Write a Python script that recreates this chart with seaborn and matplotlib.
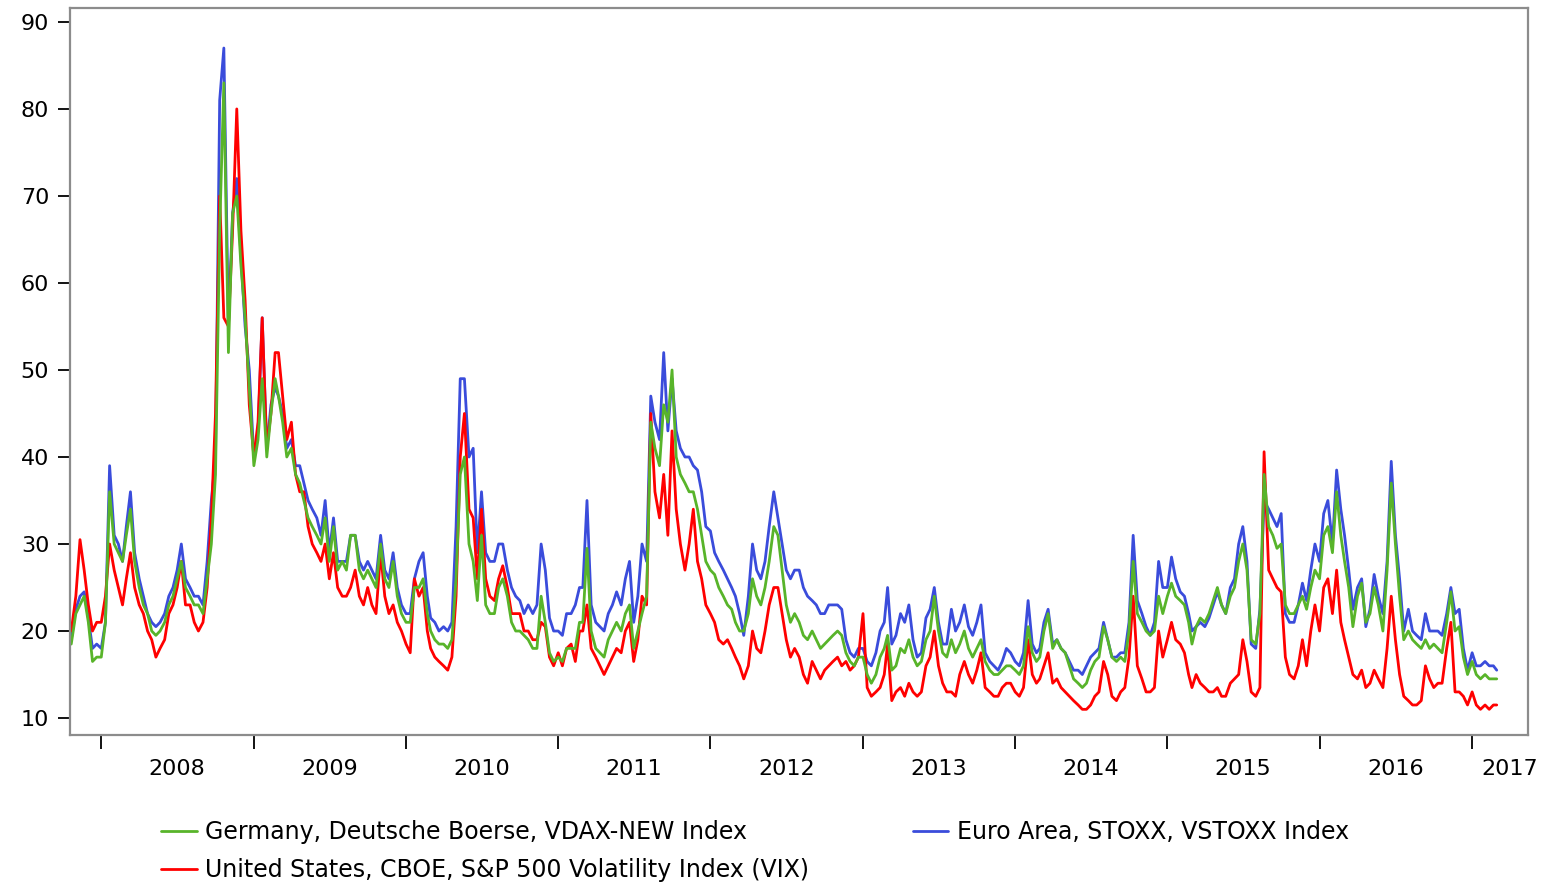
import pandas as pd
import numpy as np
import seaborn as sns
import matplotlib
matplotlib.use("Agg")
import matplotlib.pyplot as plt
import matplotlib.dates as mdates

# values, roughly every 10 days (1st, 11th, 21st of each month)
# first point 2007-10-21, last point 2017-03-01
vdax = [
    18.5, 22, 23, 24, 21, 16.5, 17,  # 2007 (Oct21 - Dec21)
    17, 21, 36, 30, 29, 28, 31, 34, 28, 25, 23, 22, 20, 19.5, 20, 21, 23, 24,
    26, 28, 25, 24, 23, 23, 22, 26, 30, 38, 66, 83, 52, 68, 70, 62, 56, 48,  # 2008
    39, 42, 49, 40, 45, 49, 47, 44, 40, 41, 38, 37, 35, 33, 32, 31, 30, 33,
    28, 32, 27, 28, 27, 31, 31, 27, 26, 27, 26, 25, 30, 26, 25, 28, 24, 22,  # 2009
    21, 21, 25, 25, 26, 22, 20, 19, 18.5, 18.5, 18, 19, 26, 38, 40, 30, 28, 23.5,
    31, 23, 22, 22, 25, 26, 24, 21, 20, 20, 19.5, 19, 18, 18, 24, 21, 17.5, 16.5,  # 2010
    17, 16.5, 18, 18, 18, 21, 21, 29.5, 20, 18, 17.5, 17, 19, 20, 21, 20, 22, 23,
    18, 20, 22, 24, 44, 41, 39, 46, 44, 50, 40, 38, 37, 36, 36, 34, 31, 28,  # 2011
    27, 26.5, 25, 24, 23, 22.5, 21, 20, 20, 22, 26, 24, 23, 25, 28, 32, 31, 27,
    23, 21, 22, 21, 19.5, 19, 20, 19, 18, 18.5, 19, 19.5, 20, 19.5, 17.5, 16.5, 16, 17,  # 2012
    17, 15, 14, 15, 17, 18, 19.5, 15.5, 16, 18, 17.5, 19, 17, 16, 16.5, 19, 20, 24,
    20, 17.5, 17, 19, 17.5, 18.5, 20, 18, 17, 18, 19, 16.5, 15.5, 15, 15, 15.5, 16, 16,  # 2013
    15.5, 15, 16, 20.5, 17.5, 16.5, 17, 20, 22, 18, 19, 18, 17.5, 16, 14.5, 14, 13.5, 14,
    15.5, 16.5, 17, 20.5, 19, 17, 16.5, 17, 16.5, 20, 28, 22, 21, 20, 19.5, 20, 24, 22,  # 2014
    24, 25.5, 24, 23.5, 23, 21, 18.5, 20.5, 21.5, 21, 22, 23.5, 25, 23, 22, 24, 25, 28,
    30, 27, 19, 18.5, 22, 38, 32, 31, 29.5, 30, 23, 22, 22, 23, 24, 22.5, 25, 27,  # 2015
    26, 31, 32, 29, 36, 31, 28, 25, 20.5, 24, 25.5, 21, 22, 25, 23, 20, 27, 37,
    30, 24, 19, 20, 19, 18.5, 18, 19, 18, 18.5, 18, 17.5, 21, 24.5, 20, 20.5, 17, 15,  # 2016
    16.5, 15, 14.5, 15, 14.5, 14.5, 14.5,  # 2017 (Jan1 - Mar1)
]
vstoxx = [
    19, 22.5, 24, 24.5, 21.5, 18, 18.5,
    18, 21, 39, 31, 30, 28, 32, 36, 29, 26, 24, 22, 21, 20.5, 21, 22, 24, 25,
    27, 30, 26, 25, 24, 24, 23, 28, 35, 40, 81, 87, 55, 68, 72, 63, 55, 50,
    40, 43, 56, 41, 46, 48, 47, 45, 41, 42, 39, 39, 37, 35, 34, 33, 31, 35,
    29, 33, 28, 28, 28, 31, 31, 28, 27, 28, 27, 26, 31, 27, 26, 29, 25, 23,
    22, 22, 26, 28, 29, 24, 21.5, 21, 20, 20.5, 20, 21, 32, 49, 49, 40, 41, 29,
    36, 29, 28, 28, 30, 30, 27, 25, 24, 23.5, 22, 23, 22, 23, 30, 27, 21.5, 20,
    20, 19.5, 22, 22, 23, 25, 25, 35, 23, 21, 20.5, 20, 22, 23, 24.5, 23, 26, 28,
    21, 24, 30, 28, 47, 44, 42, 52, 43, 49, 43, 41, 40, 40, 39, 38.5, 36, 32,
    31.5, 29, 28, 27, 26, 25, 24, 22, 19.5, 24, 30, 27, 26, 28, 32, 36, 33, 30,
    27, 26, 27, 27, 25, 24, 23.5, 23, 22, 22, 23, 23, 23, 22.5, 19, 17.5, 17, 18,
    18, 16.5, 16, 17.5, 20, 21, 25, 18.5, 19.5, 22, 21, 23, 19, 17, 17.5, 21.5, 22.5, 25,
    21, 18.5, 18.5, 22.5, 20, 21, 23, 20.5, 19.5, 21, 23, 17.5, 16.5, 16, 15.5, 16.5, 18, 17.5,
    16.5, 16, 17.5, 23.5, 18.5, 17.5, 18, 21, 22.5, 18.5, 19, 18, 17.5, 16.5, 15.5, 15.5, 15, 16,
    17, 17.5, 18, 21, 19, 17, 17, 17.5, 17.5, 21, 31, 23.5, 22, 20.5, 19.5, 21, 28, 25,
    25, 28.5, 26, 24.5, 24, 22, 20, 20.5, 21, 20.5, 21.5, 23, 24.5, 23, 22, 25, 26, 30,
    32, 28, 18.5, 18, 22.5, 35, 34, 33, 32, 33.5, 22, 21, 21, 23, 25.5, 23.5, 27, 30,
    28, 33.5, 35, 30, 38.5, 34, 31, 27, 22.5, 25, 26, 20.5, 22.5, 26.5, 24, 22, 28, 39.5,
    31, 26, 20, 22.5, 20, 19.5, 19, 22, 20, 20, 20, 19.5, 22, 25, 22, 22.5, 18, 15.5,
    17.5, 16, 16, 16.5, 16, 16, 15.5,
]
vix = [
    20, 24, 30.5, 27, 23, 20, 21,
    21, 24, 30, 27, 25, 23, 26, 29, 25, 23, 22, 20, 19, 17, 18, 19, 22, 23,
    25, 28, 23, 23, 21, 20, 21, 25, 33, 45, 70, 56, 55, 66, 80, 66, 58, 46,
    40, 44, 56, 41, 45, 52, 52, 47, 42, 44, 38, 36, 36, 32, 30, 29, 28, 30,
    26, 29, 25, 24, 24, 25, 27, 24, 23, 25, 23, 22, 29, 24, 22, 23, 21, 20,
    18.5, 17.5, 26, 24, 25, 20, 18, 17, 16.5, 16, 15.5, 17, 24, 40, 45, 34, 33, 26,
    34, 26, 24, 23.5, 26, 27.5, 25, 22, 22, 22, 20, 20, 19, 19, 21, 20.5, 17, 16,
    17.5, 16, 18, 18.5, 16.5, 20, 20, 23, 18, 17, 16, 15, 16, 17, 18, 17.5, 20, 21,
    16.5, 19, 24, 23, 45, 36, 33, 38, 31, 43, 34, 30, 27, 30, 34, 28, 26, 23,
    22, 21, 19, 18.5, 19, 18, 17, 16, 14.5, 16, 20, 18, 17.5, 20, 23, 25, 25, 22,
    19, 17, 18, 17, 15, 14, 16.5, 15.5, 14.5, 15.5, 16, 16.5, 17, 16, 16.5, 15.5, 16, 17,
    22, 13.5, 12.5, 13, 13.5, 15, 18.5, 12, 13, 13.5, 12.5, 14, 13, 12.5, 13, 16, 17, 20,
    16, 14, 13, 13, 12.5, 15, 16.5, 15, 14, 15.5, 17.5, 13.5, 13, 12.5, 12.5, 13.5, 14, 14,
    13, 12.5, 13.5, 19, 15, 14, 14.5, 16, 17.5, 14, 14.5, 13.5, 13, 12.5, 12, 11.5, 11, 11,
    11.5, 12.5, 13, 16.5, 15, 12.5, 12, 13, 13.5, 17, 24, 16, 14.5, 13, 13, 13.5, 20, 17,
    19, 21, 19, 18.5, 17.5, 15, 13.5, 15, 14, 13.5, 13, 13, 13.5, 12.5, 12.5, 14, 14.5, 15,
    19, 16.5, 13, 12.5, 13.5, 40.6, 27, 26, 25, 24.5, 17, 15, 14.5, 16, 19, 16, 20, 23,
    20, 25, 26, 22, 27, 21, 19, 17, 15, 14.5, 15.5, 13.5, 14, 15.5, 14.5, 13.5, 18, 24,
    19, 15, 12.5, 12, 11.5, 11.5, 12, 16, 14.5, 13.5, 14, 14, 18, 21, 13, 13, 12.5, 11.5,
    13, 11.5, 11, 11.5, 11, 11.5, 11.5,
]

labels = [
    "Germany, Deutsche Boerse, VDAX-NEW Index",
    "Euro Area, STOXX, VSTOXX Index",
    "United States, CBOE, S&P 500 Volatility Index (VIX)",
]
colors = ["#58b42a", "#3a4cdb", "#ff0000"]
years = list(range(2008, 2018))

# dekad dates
dates = [pd.Timestamp("2007-10-21")]
for m in pd.date_range("2007-11-01", "2017-02-01", freq="MS"):
    for d in (1, 11, 21):
        dates.append(m + pd.Timedelta(days=d - 1))
dates.append(pd.Timestamp("2017-03-01"))

frames = []
for lab, vals in zip(labels, [vdax, vstoxx, vix]):
    frames.append(pd.DataFrame({"date": dates, "value": vals, "series": lab}))
df = pd.concat(frames, ignore_index=True)

sns.set_style("white")
plt.rcParams["font.family"] = ["DejaVu Sans"]
plt.rcParams["text.color"] = "black"
plt.rcParams["xtick.color"] = "black"
plt.rcParams["ytick.color"] = "black"

fig = plt.figure(figsize=(15.54, 8.84), dpi=100)
ax = fig.add_axes([70 / 1554, 1 - 735 / 884, 1458 / 1554, 727 / 884])

# draw order: blue, red, green on top
order = [labels[1], labels[2], labels[0]]
pal = dict(zip(labels, colors))
for lab in order:
    sns.lineplot(data=df[df["series"] == lab], x="date", y="value", color=pal[lab],
                 linewidth=2.0, ax=ax, label=lab, legend=False)

ax.set_xlim(pd.Timestamp("2007-10-18"), pd.Timestamp("2017-05-15"))
ax.set_ylim(8.05, 91.6)
ax.set_yticks(range(10, 91, 10))
ax.set_xlabel("")
ax.set_ylabel("")

# year boundary ticks without labels, year labels mid-year
ax.set_xticks([mdates.date2num(pd.Timestamp(f"{y}-01-01")) for y in years])
ax.set_xticklabels([])
mid = [mdates.date2num(pd.Timestamp(f"{y}-07-01")) for y in years[:-1]]
mid.append(mdates.date2num(pd.Timestamp("2017-04-01")))
ax.set_xticks(mid, minor=True)
ax.set_xticklabels([str(y) for y in years], minor=True)
ax.tick_params(axis="x", which="major", direction="out", length=10, width=1.3,
               colors="black", bottom=True)
ax.tick_params(axis="x", which="minor", length=0, pad=17, labelsize=16, bottom=True,
               labelcolor="black")
ax.tick_params(axis="y", direction="out", length=9, width=1.3, colors="black",
               labelsize=16, pad=6, left=True)

for sp in ax.spines.values():
    sp.set_color("#8c8c8c")
    sp.set_linewidth(1.6)

handles = {l.get_label(): l for l in ax.get_lines()}
leg_order = [labels[0], labels[2], labels[1]]
leg = fig.legend([handles[l] for l in leg_order], leg_order, ncol=2, frameon=False,
                 loc="upper left", bbox_to_anchor=(152 / 1554, 1 - 811 / 884),
                 fontsize=17, handlelength=1.5, handletextpad=0.35,
                 columnspacing=4.4, labelspacing=0.58, borderaxespad=0)
for t in leg.get_texts():
    t.set_color("black")

fig.savefig("out.png", dpi=100)
